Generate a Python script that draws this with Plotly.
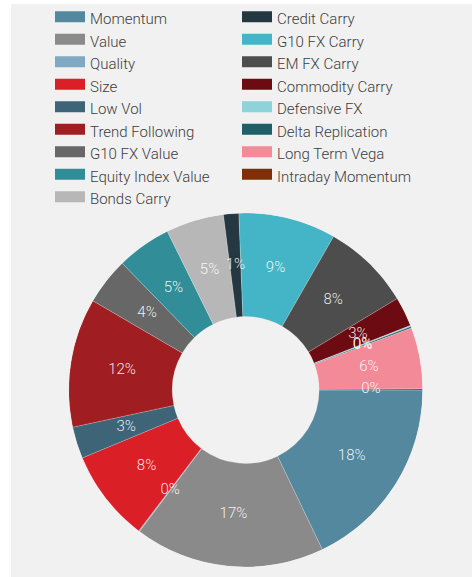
import plotly.graph_objects as go

# ---- data ----
labels = [
    "Momentum", "Value", "Quality", "Size", "Low Vol", "Trend Following",
    "G10 FX Value", "Equity Index Value", "Bonds Carry", "Credit Carry",
    "G10 FX Carry", "EM FX Carry", "Commodity Carry", "Defensive FX",
    "Delta Replication", "Long Term Vega", "Intraday Momentum",
]
values = [17.9, 17.4, 0.1, 8.4, 2.9, 11.8, 4.3, 5.0, 5.3, 1.4,
          8.9, 8.1, 2.7, 0.1, 0.15, 5.6, 0.1]
colors = [
    "#53889f", "#8a8a8a", "#7fa9c2", "#db1f26", "#3e6478", "#a01e22",
    "#676767", "#318e98", "#b7b7b7", "#253841", "#44b5c6", "#4d4d4d",
    "#6d0b12", "#8fd3da", "#1f5f66", "#f38a98", "#7f3009",
]
n_first_column = 9

W, H = 472, 577
FONT = "Roboto"
HOLE = 0.415

# slice geometry derived from the values (donut drawn on a polar axis)
total = sum(values)
spans, mids = [], []
acc = 0.0
for v in values:
    span = v / total * 360.0
    spans.append(span)
    mids.append(acc + span / 2)
    acc += span
pct_text = ["%d%%" % int(v / total * 100 + 0.5) for v in values]

fig = go.Figure()

fig.add_trace(go.Barpolar(
    theta=mids,
    width=spans,
    r=[1 - HOLE] * len(values),
    base=HOLE,
    marker=dict(color=colors, line=dict(color="rgba(255,255,255,0.35)", width=0.6)),
    text=labels,
    hovertemplate="%{text}<extra></extra>",
    showlegend=False,
))

fig.add_trace(go.Scatterpolar(
    theta=mids,
    r=[(1 + HOLE) / 2] * len(values),
    mode="text",
    text=pct_text,
    textposition="middle center",
    textfont=dict(family=FONT, size=15, color="rgba(255,255,255,0.9)", weight=300),
    hoverinfo="skip",
    showlegend=False,
))

# legend entries (two columns, column-major as in the reference)
for i, (lab, col) in enumerate(zip(labels, colors)):
    fig.add_trace(go.Scatterpolar(
        r=[None], theta=[None], mode="lines", fill="toself",
        fillcolor=col, line=dict(color=col, width=10),
        name=lab, showlegend=True, hoverinfo="skip",
        legend="legend" if i < n_first_column else "legend2",
    ))

legend_common = dict(
    yanchor="top", xanchor="left", y=1 - 2 / H,
    bgcolor="rgba(0,0,0,0)", borderwidth=0,
    font=dict(family=FONT, size=15, color="#3d3d3d", weight=300),
    itemwidth=30, tracegroupgap=0, itemclick=False, itemdoubleclick=False,
)

fig.update_layout(
    width=W, height=H,
    margin=dict(l=0, r=0, t=0, b=0),
    paper_bgcolor="#ffffff",
    polar=dict(
        domain=dict(x=[68.7 / W, 422.7 / W], y=[10 / H, 364 / H]),
        bgcolor="rgba(0,0,0,0)",
        hole=0,
        radialaxis=dict(visible=False, range=[0, 1]),
        angularaxis=dict(visible=False, rotation=0, direction="clockwise"),
        bargap=0,
    ),
    legend=dict(x=50 / W, **legend_common),
    legend2=dict(x=237 / W, **legend_common),
    shapes=[dict(
        type="rect", xref="paper", yref="paper",
        x0=11 / W, x1=1, y0=0, y1=1 - 4 / H,
        fillcolor="#f1f1f1", line=dict(width=0), layer="below",
    )],
)

fig.write_html(
    "out.html",
    config={"displayModeBar": False},
    post_script="document.body.style.margin='0';document.body.style.overflow='hidden';",
)
